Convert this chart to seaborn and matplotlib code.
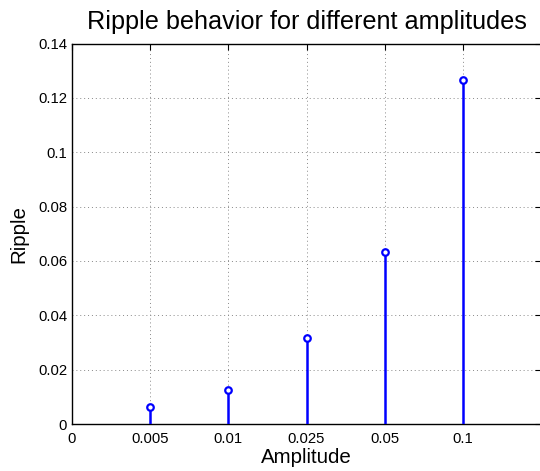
import matplotlib
matplotlib.use("Agg")
import matplotlib.pyplot as plt
import seaborn as sns
import pandas as pd

amplitude_labels = ["0", "0.005", "0.01", "0.025", "0.05", "0.1"]
amplitudes = ["0.005", "0.01", "0.025", "0.05", "0.1"]
ripple = [0.00633, 0.01267, 0.03167, 0.06333, 0.12667]
yticks = [0, 0.02, 0.04, 0.06, 0.08, 0.1, 0.12, 0.14]
ytick_labels = ["0", "0.02", "0.04", "0.06", "0.08", "0.1", "0.12", "0.14"]

sns.set_style("white")
plt.rcParams['font.family'] = ['Liberation Sans', 'DejaVu Sans']
plt.rcParams['text.color'] = 'black'
plt.rcParams['axes.labelcolor'] = 'black'

df = pd.DataFrame({"pos": [amplitude_labels.index(a) for a in amplitudes],
                   "ripple": ripple})

fig = plt.figure(figsize=(5.4, 4.71), dpi=100)
ax = fig.add_axes([72/540, 47/471, 469/540, 380.5/471])

ax.vlines(df["pos"], 0, df["ripple"], color="#0000ff", linewidth=1.8, zorder=3)
sns.scatterplot(data=df, x="pos", y="ripple", ax=ax, marker="o", s=22,
                facecolor="white", edgecolor="#0000ff", linewidth=1.6, zorder=4)

ax.set_xlim(0, 6)
ax.set_ylim(0, 0.14)
ax.set_xticks(range(len(amplitude_labels)))
ax.set_xticklabels(amplitude_labels)
ax.set_yticks(yticks)
ax.set_yticklabels(ytick_labels)
ax.tick_params(direction="in", length=4, width=0.8, labelsize=10.7, colors="black",
               top=True, right=True)
ax.tick_params(axis="x", pad=6)
ax.tick_params(axis="y", pad=3.5)
ax.grid(True, linestyle=(0, (1, 3)), color="#888888", linewidth=0.7)
for s in ax.spines.values():
    s.set_color("black")
    s.set_linewidth(1.0)

ax.set_xlabel("Amplitude", fontsize=14.8, labelpad=1)
ax.set_ylabel("Ripple", fontsize=14.8, labelpad=7)
ax.set_title("Ripple behavior for different amplitudes", fontsize=18.2, pad=10.5,
             color="black")

fig.savefig("out.png", dpi=100)
